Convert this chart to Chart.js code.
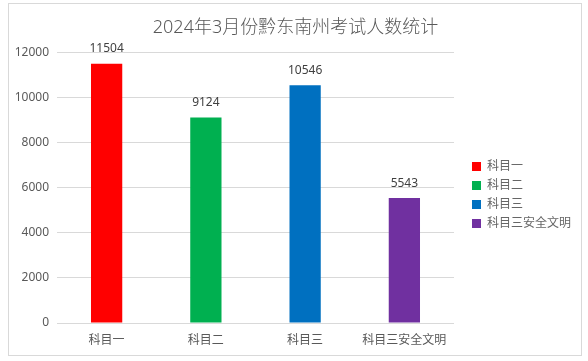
<!DOCTYPE html>
<html>
<head>
<meta charset="utf-8">
<script src="https://cdn.jsdelivr.net/npm/chart.js@4/dist/chart.umd.min.js"></script>
<style>
  html, body { margin: 0; padding: 0; background: #fff; }
  #frame {
    position: absolute; left: 8px; top: 3px;
    width: 572px; height: 351px;
    border: 1px solid #d9d9d9;
  }
  #wrap { position: absolute; left: 0; top: 0; width: 588px; height: 361px; }
</style>
</head>
<body>
<div id="frame"></div>
<div id="wrap"><canvas id="barChart" width="588" height="361"></canvas></div>
<script>
var categories = ["科目一", "科目二", "科目三", "科目三安全文明"];
var counts = [11504, 9124, 10546, 5543];
var barColors = ["#ff0000", "#00b050", "#0070c0", "#7030a0"];
var titleText = "2024年3月份黔东南州考试人数统计";

var fontFamily = "'Noto Sans', 'Noto Sans CJK SC', sans-serif";

// VALUE LABELS ################################################################

var valueLabels = {
    id: "valueLabels",
    afterDatasetsDraw: function (chart) {
        var ctx = chart.ctx;
        var meta = chart.getDatasetMeta(0);
        ctx.save();
        ctx.font = "12px " + fontFamily;
        ctx.fillStyle = "#404040";
        ctx.textAlign = "center";
        ctx.textBaseline = "bottom";
        meta.data.forEach(function (bar, i) {
            ctx.fillText(String(counts[i]), bar.x, bar.y - 9);
        });
        ctx.restore();
    }
};

// BAR CHART ###################################################################

var ctx_bar = document.getElementById("barChart");

var data = {
    labels: categories,
    datasets: [
        {
            label: titleText,
            data: counts,
            backgroundColor: barColors,
            borderWidth: 0,
            barPercentage: 0.315,
            categoryPercentage: 1
        }
    ]
};

var myBarChart = new Chart(ctx_bar, {
    type: "bar",
    data: data,
    plugins: [valueLabels],
    options: {
        responsive: false,
        animation: false,
        layout: {
            padding: { left: 10, right: 7, top: 0, bottom: 14 }
        },
        plugins: {
            title: {
                display: true,
                text: titleText,
                color: "#595959",
                font: { family: fontFamily, size: 18, weight: "300" },
                padding: { top: 17, bottom: 14 }
            },
            legend: {
                position: "right",
                fullSize: false,
                maxWidth: 160,
                title: {
                    display: true,
                    text: "",
                    font: { size: 1 },
                    padding: { top: 13, bottom: 0 }
                },
                labels: {
                    boxWidth: 9,
                    boxHeight: 9,
                    padding: 7,
                    color: "#595959",
                    font: { family: fontFamily, size: 12 },
                    generateLabels: function (chart) {
                        return categories.map(function (name, i) {
                            return {
                                text: name,
                                fillStyle: barColors[i],
                                strokeStyle: barColors[i],
                                lineWidth: 0,
                                hidden: false,
                                index: i
                            };
                        });
                    }
                },
                onClick: function () {}
            },
            tooltip: { enabled: false }
        },
        scales: {
            x: {
                grid: { display: false, drawTicks: false },
                border: { display: true, color: "#d9d9d9" },
                ticks: {
                    color: "#595959",
                    padding: 10,
                    font: { family: fontFamily, size: 12 }
                },
                afterFit: function (scale) { scale.height = 24; }
            },
            y: {
                min: 0,
                max: 12000,
                ticks: {
                    stepSize: 2000,
                    color: "#595959",
                    padding: 8,
                    font: { family: fontFamily, size: 12 },
                    callback: function (value) { return String(value); }
                },
                grid: { color: "#d9d9d9", drawTicks: false },
                border: { display: false },
                afterFit: function (scale) { scale.width = 47; }
            },
            gap: {
                type: "linear",
                position: "right",
                display: true,
                grid: { display: false, drawTicks: false },
                border: { display: false },
                ticks: { display: false },
                afterFit: function (scale) { scale.width = 11; }
            }
        }
    }
});
</script>
</body>
</html>
